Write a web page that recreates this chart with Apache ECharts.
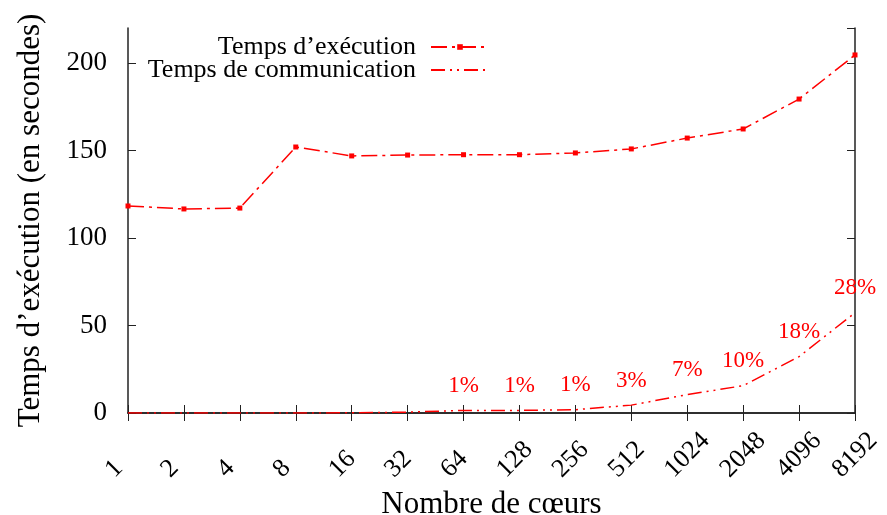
<!DOCTYPE html>
<html>
<head>
<meta charset="utf-8">
<title>Temps d’exécution et de communication</title>
<script src="https://cdn.jsdelivr.net/npm/echarts@6/dist/echarts.min.js"></script>
<style>
  html, body { margin: 0; padding: 0; background: #fff; }
  #chart { width: 887px; height: 515px; }
</style>
</head>
<body>
<div id="chart"></div>
<script>
// Nombre de cœurs (axe des abscisses, échelle log2)
const cores = ['1', '2', '4', '8', '16', '32', '64', '128', '256', '512', '1024', '2048', '4096', '8192'];
// Temps d'exécution total (s)
const execTime = [118.3, 116.6, 117.1, 152.0, 146.9, 147.4, 147.6, 147.6, 148.6, 150.9, 157.1, 162.3, 179.4, 204.6];
// Temps passé en communication (s)
const commTime = [0, 0, 0, 0, 0.1, 0.5, 1.5, 1.5, 1.9, 4.5, 10.5, 15.6, 32.2, 57.3];
// Part de la communication dans le temps total
const commShare = ['', '', '', '', '', '', '1%', '1%', '1%', '3%', '7%', '10%', '18%', '28%'];
// Graduations de l'axe des ordonnées
const yTicks = { min: 0, max: 220, interval: 50 };

const RED = '#ff0000';
const AXIS = '#222222';
const FONT = 'Liberation Serif';

const chart = echarts.init(document.getElementById('chart'), null, { renderer: 'canvas' });

// right padding so every rotated label starts at the same place
const rich = {};
for (let k = 0; k <= 3; k++) {
  rich['p' + k] = { fontFamily: FONT, fontSize: 26, color: '#000', padding: [0, 13 * k, 0, 0] };
}

const legendText = { fontFamily: FONT, fontSize: 26, color: '#000', lineHeight: 26, padding: [0, 10, 0, 0] };

const option = {
  animation: false,
  backgroundColor: '#ffffff',
  textStyle: { fontFamily: FONT },
  grid: { left: 128, right: 32, top: 28, bottom: 102, containLabel: false, outerBoundsMode: 'none' },
  legend: [
    {
      data: ['Temps d’exécution'],
      orient: 'vertical', align: 'right', right: 397, top: 34, padding: 0,
      itemWidth: 58, itemHeight: 7,
      textStyle: legendText
    },
    {
      // the communication curve has no point markers
      data: [{ name: 'Temps de communication', itemStyle: { opacity: 0 } }],
      orient: 'vertical', align: 'right', right: 397, top: 57, padding: 0,
      itemWidth: 58, itemHeight: 7,
      textStyle: legendText
    }
  ],
  xAxis: [
    {
      type: 'category', data: cores, boundaryGap: false, position: 'bottom',
      name: 'Nombre de cœurs', nameLocation: 'middle', nameGap: 66,
      nameTextStyle: { fontFamily: FONT, fontSize: 31, color: '#000' },
      axisLine: { lineStyle: { color: AXIS, width: 1.5 } },
      axisTick: { inside: true, length: 8, lineStyle: { color: AXIS } },
      axisLabel: {
        rotate: 45, align: 'center', verticalAlign: 'middle', margin: 42,
        interval: 0, color: '#000', fontFamily: FONT, fontSize: 26,
        formatter: v => '{p' + (4 - v.length) + '|' + v + '}',
        rich: rich
      },
      splitLine: { show: false }
    },
    {
      type: 'category', data: cores, boundaryGap: false, position: 'top',
      axisLine: { lineStyle: { color: AXIS, width: 1.5 } },
      axisTick: { inside: true, length: 8, lineStyle: { color: AXIS } },
      axisLabel: { show: false },
      splitLine: { show: false }
    }
  ],
  yAxis: [
    {
      type: 'value', position: 'left',
      min: yTicks.min, max: yTicks.max, interval: yTicks.interval,
      name: 'Temps d’exécution (en secondes)', nameLocation: 'middle', nameGap: 82,
      nameTextStyle: { fontFamily: FONT, fontSize: 31, color: '#000' },
      axisLine: { show: true, lineStyle: { color: AXIS, width: 1.5 } },
      axisTick: { show: true, inside: true, length: 8, lineStyle: { color: AXIS } },
      axisLabel: { margin: 21, color: '#000', fontFamily: FONT, fontSize: 27, showMaxLabel: false },
      splitLine: { show: false }
    },
    {
      type: 'value', position: 'right',
      min: yTicks.min, max: yTicks.max, interval: yTicks.interval,
      axisLine: { show: true, lineStyle: { color: AXIS, width: 1.5 } },
      axisTick: { show: true, inside: true, length: 8, lineStyle: { color: AXIS } },
      axisLabel: { show: false },
      splitLine: { show: false }
    }
  ],
  series: [
    {
      name: 'Temps d’exécution', type: 'line', data: execTime,
      xAxisIndex: 0, yAxisIndex: 0,
      symbol: 'rect', symbolSize: 5, showAllSymbol: true,
      itemStyle: { color: RED },
      lineStyle: { color: RED, width: 1.5, type: [16, 5, 3, 5] },
      z: 3
    },
    {
      name: 'Temps de communication', type: 'line', data: commTime,
      xAxisIndex: 0, yAxisIndex: 0,
      symbol: 'none',
      itemStyle: { color: RED },
      lineStyle: { color: RED, width: 1.5, type: [14, 5, 2, 5, 2, 5] },
      z: 3
    },
    {
      // pourcentages écrits au-dessus de la courbe de communication
      name: 'Part de la communication', type: 'line', data: commTime,
      xAxisIndex: 0, yAxisIndex: 0,
      symbol: 'circle', symbolSize: 0, showAllSymbol: true,
      itemStyle: { color: RED },
      lineStyle: { width: 0, opacity: 0 },
      label: {
        show: true, position: 'top', distance: 13,
        color: RED, fontFamily: FONT, fontSize: 23,
        formatter: p => commShare[p.dataIndex]
      },
      z: 4
    }
  ]
};

chart.setOption(option);
</script>
</body>
</html>
